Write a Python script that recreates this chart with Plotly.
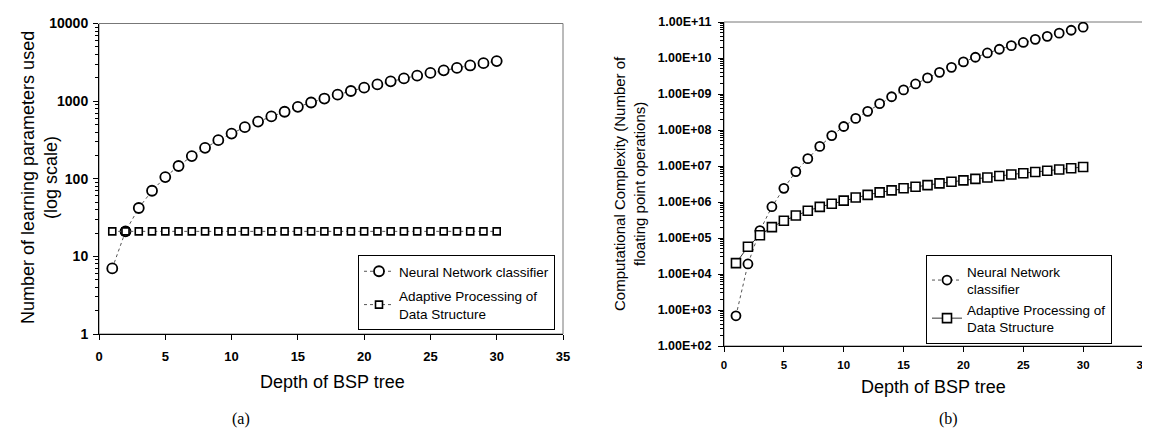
import plotly.graph_objects as go

# ---------------- data ----------------
depth = [1, 2, 3, 4, 5, 6, 7, 8, 9, 10, 11, 12, 13, 14, 15,
         16, 17, 18, 19, 20, 21, 22, 23, 24, 25, 26, 27, 28, 29, 30]

# (a) number of learning parameters used
nn_params = [7, 21, 42, 70, 105, 146, 196, 250, 314, 382, 462, 545, 635, 730, 845,
             960, 1080, 1210, 1350, 1490, 1640, 1800, 1960, 2130, 2310, 2490, 2680, 2880, 3080, 3280]
apds_params = [21, 21, 21, 21, 21, 21, 21, 21, 21, 21, 21, 21, 21, 21, 21,
               21, 21, 21, 21, 21, 21, 21, 21, 21, 21, 21, 21, 21, 21, 21]

# (b) computational complexity (floating point operations)
nn_flops = [6.9e2, 1.9e4, 1.6e5, 7.4e5, 2.4e6, 7.0e6, 1.6e7, 3.5e7, 7.0e7, 1.25e8,
            2.1e8, 3.3e8, 5.4e8, 8.4e8, 1.3e9, 1.9e9, 2.8e9, 4.0e9, 5.5e9, 7.8e9,
            1.05e10, 1.38e10, 1.75e10, 2.2e10, 2.7e10, 3.3e10, 4.0e10, 4.9e10, 5.9e10, 7.2e10]
apds_flops = [2.0e4, 5.7e4, 1.19e5, 2.0e5, 3.0e5, 4.2e5, 5.7e5, 7.3e5, 8.9e5, 1.09e6,
              1.33e6, 1.58e6, 1.85e6, 2.1e6, 2.4e6, 2.65e6, 2.95e6, 3.3e6, 3.65e6, 4.0e6,
              4.4e6, 4.8e6, 5.3e6, 5.8e6, 6.3e6, 6.8e6, 7.4e6, 8.0e6, 8.7e6, 9.4e6]

x_ticks = [0, 5, 10, 15, 20, 25, 30, 35]
ya_tickvals = [1, 10, 100, 1000, 10000]
ya_ticktext = ["1", "10", "100", "1000", "10000"]
yb_tickvals = [1e2, 1e3, 1e4, 1e5, 1e6, 1e7, 1e8, 1e9, 1e10, 1e11]
yb_ticktext = ["1.00E+02", "1.00E+03", "1.00E+04", "1.00E+05", "1.00E+06",
               "1.00E+07", "1.00E+08", "1.00E+09", "1.00E+10", "1.00E+11"]

name_nn_a = "Neural Network classifier"
name_apds_a = "Adaptive Processing of<br>Data Structure"
name_nn_b = "Neural Network<br>classifier"
name_apds_b = "Adaptive Processing of<br>Data Structure"

# ---------------- layout helpers ----------------
W, H = 1150, 428
def px(x):
    return x / W
def py(y):
    return 1 - y / H

SANS = "Liberation Sans, Arial, sans-serif"
SERIF = "Liberation Serif, Times New Roman, serif"

def minor_vals(lo, hi):
    return [m * 10 ** e for e in range(lo, hi) for m in range(2, 10)]

fig = go.Figure()

circle = dict(symbol="circle", color="white", line=dict(color="black", width=1.8))
square = dict(symbol="square", color="white", line=dict(color="black", width=1.6))

fig.add_trace(go.Scatter(
    x=depth, y=nn_params, name=name_nn_a, xaxis="x", yaxis="y",
    mode="lines+markers", legend="legend", legendgroup="a1",
    line=dict(color="#555555", width=1, dash="dot"),
    marker=dict(size=10, **circle)))
fig.add_trace(go.Scatter(
    x=depth, y=apds_params, name=name_apds_a, xaxis="x", yaxis="y",
    mode="lines+markers", legend="legend", legendgroup="a2",
    line=dict(color="#555555", width=1, dash="dot"),
    marker=dict(size=7, **square)))

fig.add_trace(go.Scatter(
    x=depth, y=nn_flops, name=name_nn_b, xaxis="x2", yaxis="y2",
    mode="lines+markers", legend="legend2", legendgroup="b1",
    line=dict(color="#555555", width=1, dash="dot"),
    marker=dict(size=9, **circle)))
fig.add_trace(go.Scatter(
    x=depth, y=apds_flops, name=name_apds_b, xaxis="x2", yaxis="y2",
    mode="lines+markers", legend="legend2", legendgroup="b2",
    line=dict(color="#333333", width=1),
    marker=dict(size=9, **square)))

def tf(size):
    return dict(family=SANS, size=size, color="black", weight="bold")

axis_common = dict(ticks="outside", ticklen=5, tickcolor="black",
                   showline=True, linecolor="black", linewidth=1,
                   showgrid=False, zeroline=False, automargin=False)

fig.update_layout(
    template="none",
    width=W, height=H, autosize=False,
    margin=dict(l=0, r=0, t=0, b=0, pad=0),
    paper_bgcolor="white", plot_bgcolor="white",
    font=dict(family=SANS, color="black"),
    showlegend=True,
    xaxis=dict(domain=[px(91), px(555)], anchor="y", range=[0, 35],
               tickmode="array", tickvals=x_ticks, tickfont=tf(13),
               ticklabelstandoff=5, **axis_common),
    yaxis=dict(domain=[py(326), py(15.5)], anchor="x", type="log", range=[0, 4],
               tickmode="array", tickvals=ya_tickvals, ticktext=ya_ticktext,
               tickfont=tf(14), ticklabelstandoff=2,
               minor=dict(tickmode="array", tickvals=minor_vals(0, 4), ticks="outside",
                          ticklen=3, tickcolor="black", showgrid=False),
               **axis_common),
    xaxis2=dict(domain=[px(716), px(1135)], anchor="y2", range=[0, 35],
                tickmode="array", tickvals=x_ticks, tickfont=tf(11.5),
                ticklabelstandoff=3, **axis_common),
    yaxis2=dict(domain=[py(338), py(14)], anchor="x2", type="log", range=[2, 11],
                tickmode="array", tickvals=yb_tickvals, ticktext=yb_ticktext,
                tickfont=tf(12.5), ticklabelstandoff=4,
                minor=dict(tickmode="array", tickvals=minor_vals(2, 11), ticks="outside",
                           ticklen=3, tickcolor="black", showgrid=False),
                **axis_common),
    legend=dict(x=px(350), y=py(247), xanchor="left", yanchor="top",
                bgcolor="white", bordercolor="black", borderwidth=1,
                font=dict(family=SANS, size=13.5, color="black"),
                tracegroupgap=4, itemwidth=30),
    legend2=dict(x=px(918), y=py(247), xanchor="left", yanchor="top",
                 bgcolor="white", bordercolor="black", borderwidth=1,
                 font=dict(family=SANS, size=13.5, color="black"),
                 tracegroupgap=0, itemwidth=30),
)

# plot-area frames (top/right border in gray)
for xr, yr in (("x domain", "y domain"), ("x2 domain", "y2 domain")):
    fig.add_shape(type="rect", xref=xr, yref=yr, x0=0, x1=1, y0=0, y1=1,
                  line=dict(color="#777777", width=1), layer="below")

def label(x, y, text, size, family=SANS, angle=0):
    fig.add_annotation(x=px(x), y=py(y), xref="paper", yref="paper",
                       xanchor="center", yanchor="middle", text=text,
                       textangle=angle, showarrow=False,
                       font=dict(family=family, size=size, color="black"))

label(324, 374, "Depth of BSP tree", 18)
label(926, 379, "Depth of BSP tree", 18)
label(31, 170, "Number of learning parameters used<br>(log scale)", 18, angle=-90)
label(621, 176, "Computational Complexity (Number of<br>floating point operations)", 15, angle=-90)
label(233, 411, "(a)", 16, family=SERIF)
label(940, 411, "(b)", 16, family=SERIF)

fig.write_html("out.html")
